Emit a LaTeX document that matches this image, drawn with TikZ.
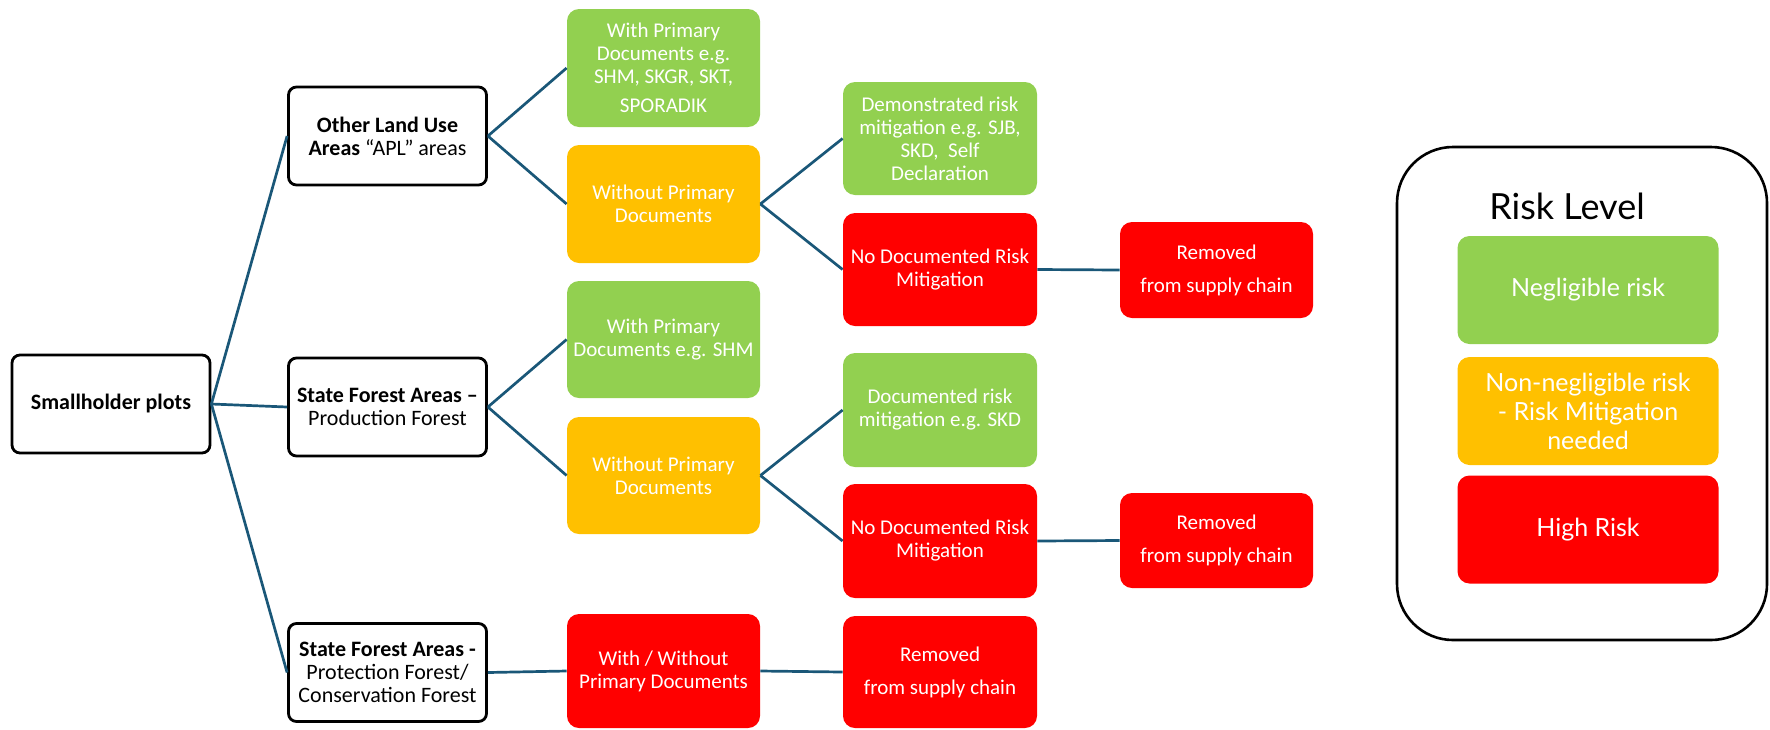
\documentclass[tikz,border=0pt]{standalone}
\usepackage{fontspec}
\setmainfont{Carlito}
\newfontfamily\legendfont{Lato}
\usetikzlibrary{positioning}

\definecolor{riskgreen}{HTML}{92D050}
\definecolor{riskamber}{HTML}{FFC000}
\definecolor{riskred}{HTML}{FF0000}
\definecolor{linkblue}{HTML}{1A5778}

\tikzset{
  areabox/.style={draw=black, line width=1.4pt, rounded corners=4pt, fill=white,
    align=center, minimum width=99pt, minimum height=49pt, inner sep=1pt,
    font=\fontsize{11}{11.5}\selectfont},
  riskbox/.style={rounded corners=6pt, text=white, align=center, inner sep=1pt,
    font=\fontsize{10.5}{11.5}\selectfont},
  lowrisk/.style={riskbox, fill=riskgreen},
  midrisk/.style={riskbox, fill=riskamber},
  highrisk/.style={riskbox, fill=riskred},
  colA/.style={minimum width=96.5pt},
  colB/.style={minimum width=97pt},
  legendbox/.style={riskbox, minimum width=130.5pt, minimum height=54pt,
    font=\legendfont\fontsize{12.5}{14.5}\selectfont},
  link/.style={draw=linkblue, line width=1.35pt},
}

\begin{document}
\begin{tikzpicture}[x=0.5pt, y=-0.5pt]
  \useasboundingbox (0,0) rectangle (1770,729);

  % root and land areas
  \node[areabox] (plots) at (111,404) {\textbf{Smallholder plots}};
  \node[areabox] (apl)  at (387.5,136) {\textbf{Other Land Use}\\\textbf{Areas} “APL” areas};
  \node[areabox] (prod) at (387.5,407) {\textbf{State Forest Areas –}\\Production Forest};
  \node[areabox] (prot) at (387.5,672.5) {\textbf{State Forest Areas -}\\Protection Forest/\\Conservation Forest};

  % documents
  \node[lowrisk, colA, minimum height=59pt] (wpdA) at (663.5,68)
    {With Primary\\Documents e.g.\\SHM, SKGR, SKT,\\[3pt]SPORADIK};
  \node[midrisk, colA, minimum height=59pt] (wopdA) at (663.5,204)
    {Without Primary\\Documents};
  \node[lowrisk, colA, minimum height=58.5pt] (wpdB) at (663.5,339.5)
    {With Primary\\Documents e.g. SHM};
  \node[midrisk, colA, minimum height=58.5pt] (wopdB) at (663.5,475.5)
    {Without Primary\\Documents};
  \node[highrisk, colA, minimum height=57pt] (anydoc) at (663.5,671)
    {With / Without\\Primary Documents};

  % mitigation
  \node[lowrisk, colB, minimum height=56.5pt] (demo) at (940,138.5)
    {Demonstrated risk\\mitigation e.g. SJB,\\SKD,\ \ Self\\Declaration};
  \node[highrisk, colB, minimum height=56.5pt] (nodocA) at (940,269.5)
    {No Documented Risk\\Mitigation};
  \node[lowrisk, colB, minimum height=57pt] (docd) at (940,410)
    {Documented risk\\mitigation e.g. SKD};
  \node[highrisk, colB, minimum height=57pt] (nodocB) at (940,541)
    {No Documented Risk\\Mitigation};
  \node[highrisk, colB, minimum height=56pt] (remC) at (940,672)
    {Removed\\[5pt]from supply chain};

  % removed
  \node[highrisk, colA, minimum height=48pt] (remA) at (1216.5,270)
    {Removed\\[5pt]from supply chain};
  \node[highrisk, colA, minimum height=47.5pt] (remB) at (1216.5,540.5)
    {Removed\\[5pt]from supply chain};

  % connectors
  \foreach \child in {apl,prod,prot}
    \draw[link] (plots.east) -- (\child.west);
  \foreach \child in {wpdA,wopdA}
    \draw[link] (apl.east) -- (\child.west);
  \foreach \child in {wpdB,wopdB}
    \draw[link] (prod.east) -- (\child.west);
  \draw[link] (prot.east) -- (anydoc.west);
  \foreach \child in {demo,nodocA}
    \draw[link] (wopdA.east) -- (\child.west);
  \foreach \child in {docd,nodocB}
    \draw[link] (wopdB.east) -- (\child.west);
  \draw[link] (nodocA.east) -- (remA.west);
  \draw[link] (nodocB.east) -- (remB.west);
  \draw[link] (anydoc.east) -- (remC.west);

  % legend
  \draw[line width=1.3pt, rounded corners=28pt] (1397,147) rectangle (1767,640);
  \node[font=\legendfont\fontsize{18}{20}\selectfont] (risktitle) at (1567,206) {Risk Level};
  \node[legendbox, fill=riskgreen] (negl) at (1588,290) {Negligible risk};
  \node[legendbox, fill=riskamber] (nonnegl) at (1588,411)
    {Non-negligible risk\\- Risk Mitigation\\needed};
  \node[legendbox, fill=riskred] (high) at (1588,529.5) {High Risk};
\end{tikzpicture}
\end{document}
